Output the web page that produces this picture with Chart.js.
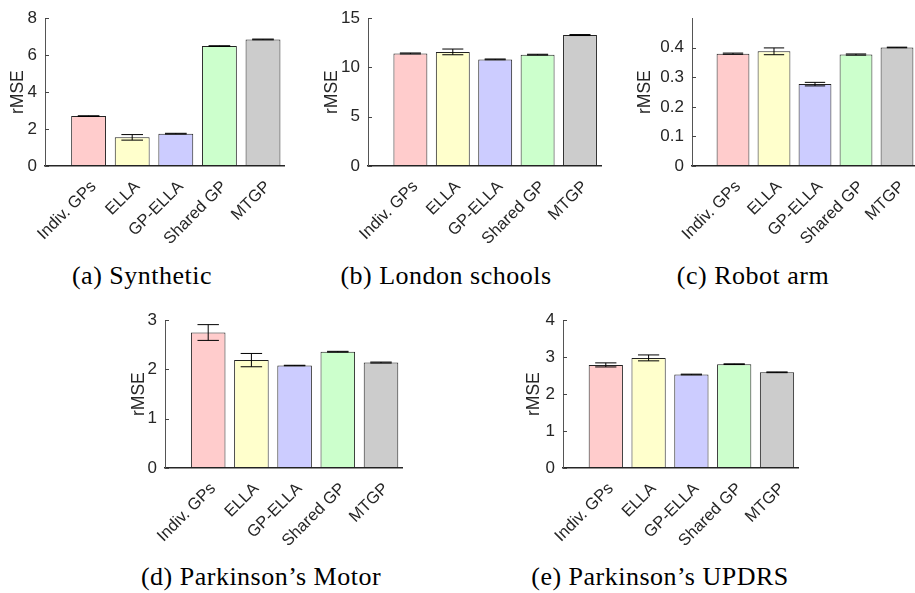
<!DOCTYPE html>
<html>
<head>
<meta charset="utf-8">
<script src="https://cdn.jsdelivr.net/npm/chart.js@4.4.1/dist/chart.umd.min.js"></script>
<style>
  html, body { margin:0; padding:0; background:#fff; overflow:hidden; width:915px; height:593px; }
  canvas { position:absolute; }
  .cap { position:absolute; font-family:"Liberation Serif", serif; font-size:26px; letter-spacing:0.5px;
         color:#000; white-space:nowrap; transform:translateX(-50%); line-height:30px; }
</style>
</head>
<body>
<canvas id="cA" width="288" height="250" style="left:0px;top:0px"></canvas>
<canvas id="cB" width="291" height="250" style="left:314px;top:0px"></canvas>
<canvas id="cC" width="295" height="250" style="left:627px;top:0px"></canvas>
<canvas id="cD" width="285" height="250" style="left:121px;top:302px"></canvas>
<canvas id="cE" width="286" height="250" style="left:516px;top:302px"></canvas>

<div class="cap" style="left:142px;top:261px">(a) Synthetic</div>
<div class="cap" style="left:446px;top:261px">(b) London schools</div>
<div class="cap" style="left:753px;top:261px">(c) Robot arm</div>
<div class="cap" style="left:261px;top:562px">(d) Parkinson’s Motor</div>
<div class="cap" style="left:660px;top:562px">(e) Parkinson’s UPDRS</div>

<script>
// ======= DATA =======
const METHODS = ["Indiv. GPs", "ELLA", "GP-ELLA", "Shared GP", "MTGP"];
const BAR_COLORS = ["#ffcccc", "#ffffcc", "#ccccff", "#ccffcc", "#cccccc"];

const synthVals  = [2.70, 1.55, 1.75, 6.49, 6.85];
const synthErr   = [0.02, 0.15, 0.02, 0.02, 0.02];
const synthTicks = [0, 2, 4, 6, 8];

const londonVals  = [11.42, 11.58, 10.82, 11.30, 13.29];
const londonErr   = [0.05, 0.29, 0.04, 0.04, 0.05];
const londonTicks = [0, 5, 10, 15];

const robotVals  = [0.380, 0.388, 0.277, 0.377, 0.401];
const robotErr   = [0.002, 0.0115, 0.006, 0.002, 0.001];
const robotTicks = [0, 0.1, 0.2, 0.3, 0.4];

const motorVals  = [2.75, 2.19, 2.08, 2.36, 2.14];
const motorErr   = [0.16, 0.135, 0.005, 0.008, 0.01];
const motorTicks = [0, 1, 2, 3];

const updrsVals  = [2.79, 2.98, 2.53, 2.81, 2.59];
const updrsErr   = [0.055, 0.08, 0.01, 0.01, 0.01];
const updrsTicks = [0, 1, 2, 3, 4];

// ======= PLUGIN: error bars + inward y ticks =======
const errorBars = {
  id: "errorBars",
  afterDatasetsDraw(chart){
    const ctx = chart.ctx;
    const ys = chart.scales.y;
    const ds = chart.data.datasets[0];
    const meta = chart.getDatasetMeta(0);
    ctx.save();
    ctx.strokeStyle = "#000";
    ctx.lineWidth = 1;
    meta.data.forEach((bar, i) => {
      const v = ds.data[i].y, e = ds.errors[i];
      const hi = ys.getPixelForValue(v + e), lo = ys.getPixelForValue(v - e);
      const half = bar.width * 0.31;
      ctx.beginPath();
      ctx.moveTo(bar.x, hi); ctx.lineTo(bar.x, lo);
      ctx.moveTo(bar.x - half, hi); ctx.lineTo(bar.x + half, hi);
      ctx.moveTo(bar.x - half, lo); ctx.lineTo(bar.x + half, lo);
      ctx.stroke();
    });
    ctx.strokeStyle = "#444";
    ys.ticks.forEach(t => {
      const py = Math.round(ys.getPixelForValue(t.value)) + 0.5;
      ctx.beginPath(); ctx.moveTo(ys.right, py); ctx.lineTo(ys.right + 4, py); ctx.stroke();
    });
    ctx.restore();
  }
};

function makePanel(id, vals, errs, yTicks, yMax, yWidth){
  return new Chart(document.getElementById(id), {
    type: "bar",
    data: {
      datasets: [{
        data: vals.map((v, i) => ({x: i + 1, y: v})),
        errors: errs,
        backgroundColor: BAR_COLORS,
        borderColor: "#222",
        borderWidth: 1,
        borderSkipped: false,
        barPercentage: 0.8,
        categoryPercentage: 1.0
      }]
    },
    options: {
      responsive: false,
      animation: false,
      layout: { padding: { top: 11, right: 0, bottom: 0, left: 0 } },
      plugins: { legend: { display: false }, tooltip: { enabled: false } },
      scales: {
        x: {
          type: "linear", min: 0, max: 5.5, offset: false,
          grid: { display: false, drawTicks: false },
          border: { display: true, color: "#262626", width: 1.5 },
          afterBuildTicks: axis => { axis.ticks = METHODS.map((_, i) => ({value: i + 1})); },
          afterFit: s => { s.height = 84; },
          ticks: {
            autoSkip: false, minRotation: 45, maxRotation: 45, padding: 11, labelOffset: 5,
            color: "#262626", font: { family: "Liberation Sans", size: 16.5 },
            callback: v => METHODS[v - 1] || ""
          }
        },
        y: {
          min: 0, max: yMax,
          grid: { display: false, drawTicks: false },
          border: { display: true, color: "#555", width: 1 },
          afterBuildTicks: axis => { axis.ticks = yTicks.map(v => ({value: v})); },
          afterFit: s => { s.width = yWidth; },
          ticks: { padding: 8, color: "#262626", font: { family: "Liberation Sans", size: 17 }, callback: v => String(v) },
          title: { display: true, text: "rMSE", color: "#262626", padding: { top: 8, bottom: 0 },
                   font: { family: "Liberation Sans", size: 17.5 } }
        }
      }
    },
    plugins: [errorBars]
  });
}

// ======= INIT =======
makePanel("cA", synthVals, synthErr, synthTicks, 8, 45);
makePanel("cB", londonVals, londonErr, londonTicks, 15, 54);
makePanel("cC", robotVals, robotErr, robotTicks, 0.5, 65);
makePanel("cD", motorVals, motorErr, motorTicks, 3, 44);
makePanel("cE", updrsVals, updrsErr, updrsTicks, 4, 47);
</script>
</body>
</html>
